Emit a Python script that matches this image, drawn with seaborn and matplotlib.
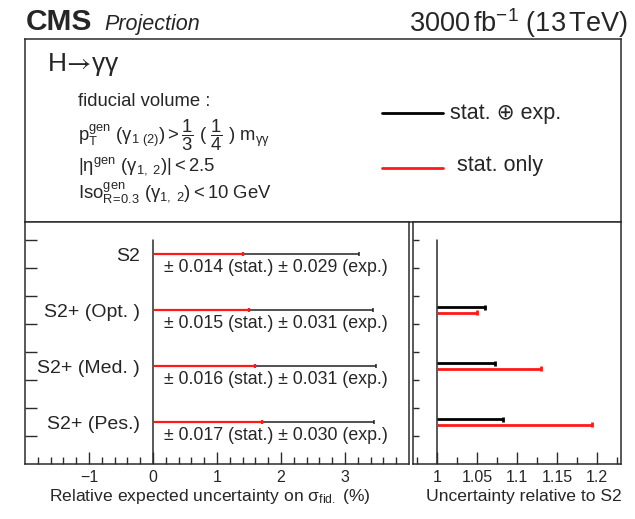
import numpy as np
import pandas as pd
import matplotlib
matplotlib.use("Agg")
import matplotlib.pyplot as plt
from matplotlib.lines import Line2D
import seaborn as sns

# Projected H->gammagamma fiducial cross-section uncertainties
categories = ["S2", "S2+ (Opt. )", "S2+ (Med. )", "S2+ (Pes.)"]
stat_unc = [0.014, 0.015, 0.016, 0.017]
exp_unc = [0.029, 0.031, 0.031, 0.030]

# uncertainty of the upgraded scenarios relative to S2
ratio_categories = ["S2+ (Opt. )", "S2+ (Med. )", "S2+ (Pes.)"]
ratio_total = [1.060, 1.072, 1.082]
ratio_stat = [1.050, 1.130, 1.194]

left_ticks = [-1, 0, 1, 2, 3]
right_ticks = [1.0, 1.05, 1.1, 1.15, 1.2]
right_tick_labels = ["1", "1.05", "1.1", "1.15", "1.2"]

sns.set_theme(style="ticks")
plt.rcParams["font.family"] = ["Liberation Sans", "DejaVu Sans"]
plt.rcParams["mathtext.fontset"] = "custom"
plt.rcParams["mathtext.rm"] = "Liberation Sans"
plt.rcParams["mathtext.it"] = "Liberation Sans:italic"
plt.rcParams["mathtext.bf"] = "Liberation Sans:bold"

W, H = 635, 519
fig = plt.figure(figsize=(W / 100, H / 100), dpi=100)
fig.patch.set_facecolor("white")

FRAME = "#2b2b2b"
RED = "#ff1a1a"


def fx(px):
    return px / W


def fy(py):
    return 1 - py / H


def box(x0, y0, x1, y1):
    return [fx(x0), fy(y1), fx(x1) - fx(x0), fy(y0) - fy(y1)]


def style_frame(ax):
    for sp in ax.spines.values():
        sp.set_visible(True)
        sp.set_color(FRAME)
        sp.set_linewidth(1.1)
    ax.set_facecolor("white")


def draw_segments(ax, x0, x1, y0, y1, color, lw):
    rows = []
    for i, (a, b, c, d) in enumerate(zip(x0, x1, y0, y1)):
        rows.append({"seg": i, "x": a, "y": c})
        rows.append({"seg": i, "x": b, "y": d})
    df = pd.DataFrame(rows)
    sns.lineplot(data=df, x="x", y="y", units="seg", estimator=None, sort=False,
                 color=color, lw=lw, ax=ax, legend=False, solid_capstyle="butt")


def hbars(ax, base, values, ypos, color, lw, cap, cap_lw):
    n = len(values)
    draw_segments(ax, [base] * n, values, ypos, ypos, color, lw)
    draw_segments(ax, values, values, [y - cap for y in ypos], [y + cap for y in ypos],
                  color, cap_lw)


# ---------------- header ----------------
fig.text(fx(26), fy(30), "CMS", fontsize=21.5, fontweight="bold", ha="left", va="baseline")
fig.text(fx(104), fy(30), "Projection", fontsize=15.5, style="italic", ha="left", va="baseline")
fig.text(fx(628), fy(32), r"3000$\,$fb$^{-1}$ (13$\,$TeV)", fontsize=19.5, ha="right", va="baseline")

# ---------------- description box ----------------
axT = fig.add_axes(box(25, 39, 621, 222))
style_frame(axT)
axT.set_xticks([])
axT.set_yticks([])

fig.text(fx(47), fy(71), r"H$\!\rightarrow\!$γγ", fontsize=19, ha="left", va="baseline",
         math_fontfamily="stix")
fig.text(fx(78), fy(106.5), "fiducial volume :", fontsize=13.3, ha="left", va="baseline")
fig.text(fx(78), fy(140),
         r"$\mathrm{p_{T}^{gen}\ (\gamma_{1\ (2)}) > \dfrac{1}{3}\ (\ \dfrac{1}{4}\ )\ m_{\gamma\gamma}}$",
         fontsize=13.3, ha="left", va="baseline")
fig.text(fx(78), fy(170.5), r"$\mathrm{|\eta^{gen}\ (\gamma_{1,\ 2})| < 2.5}$",
         fontsize=13.3, ha="left", va="baseline")
fig.text(fx(78), fy(199), r"$\mathrm{Iso^{gen}_{R\!=\!0.3}\ (\gamma_{1,\ 2}) < 10\ GeV}$",
         fontsize=13.3, ha="left", va="baseline")

fig.add_artist(Line2D([fx(382), fx(443)], [fy(112.7), fy(112.7)], color="black", lw=2.0))
fig.text(fx(450), fy(113), "stat. \u2295 exp.", fontsize=15.5, ha="left", va="center")
fig.add_artist(Line2D([fx(382), fx(443)], [fy(167.7), fy(167.7)], color=RED, lw=2.0))
fig.text(fx(457), fy(166), "stat. only", fontsize=15.5, ha="left", va="center")

# ---------------- left panel: absolute uncertainties ----------------
n = len(categories)
ypos = list(7.5 - 2.0 * np.arange(n))
total_pct = [100 * np.hypot(s, e) for s, e in zip(stat_unc, exp_unc)]
stat_pct = [100 * s for s in stat_unc]

axL = fig.add_axes(box(25, 222, 409, 464))
style_frame(axL)
axL.set_xlim(-2, 4)
axL.set_ylim(0, 242 / 28)
axL.plot([0, 0], [0, 8], color=FRAME, lw=1.1)

hbars(axL, 0, total_pct, ypos, "#222222", 1.1, 0.07, 1.1)
hbars(axL, 0, stat_pct, ypos, RED, 1.6, 0.08, 1.6)

for y, name, s, e in zip(ypos, categories, stat_unc, exp_unc):
    axL.text(-0.2, y - 0.1, name, fontsize=14, ha="right", va="center")
    axL.text(0.17, y - 0.48, f"\u00b1 {s:.3f} (stat.) \u00b1 {e:.3f} (exp.)",
             fontsize=12.8, ha="left", va="center")

axL.set_xticks(left_ticks)
axL.set_xticklabels(["\u22121", "0", "1", "2", "3"])
axL.set_xticks([v for v in np.round(np.arange(-2, 4.01, 0.2), 1) if abs(v - round(v)) > 1e-6],
               minor=True)
axL.set_yticks(np.arange(1, 9))
axL.set_yticklabels([])
axL.tick_params(axis="x", which="major", direction="in", length=8.5, width=1.0,
                color=FRAME, labelsize=11.5, pad=4, top=False)
axL.tick_params(axis="x", which="minor", direction="in", length=5, width=1.0,
                color=FRAME, top=False)
axL.tick_params(axis="y", which="major", direction="in", length=8.5, width=1.0,
                color=FRAME, right=False)
axL.set_xlabel("")
axL.set_ylabel("")

# ---------------- right panel: relative to S2 ----------------
rpos = ypos[1:]
axR = fig.add_axes(box(413, 222, 621, 464))
style_frame(axR)
axR.set_xlim(0.97, 1.23)
axR.set_ylim(0, 242 / 28)
axR.plot([1, 1], [0, 8], color=FRAME, lw=1.1)

hbars(axR, 1.0, ratio_total, [y + 0.1 for y in rpos], "black", 2.0, 0.09, 2.0)
hbars(axR, 1.0, ratio_stat, [y - 0.1 for y in rpos], RED, 2.0, 0.09, 2.0)

axR.set_xticks(right_ticks)
axR.set_xticklabels(right_tick_labels)
axR.set_xticks(list(np.round(np.arange(0.975, 1.23, 0.05), 3)), minor=True)
axR.set_yticks(np.arange(1, 9))
axR.set_yticklabels([])
axR.tick_params(axis="x", which="major", direction="in", length=9, width=1.0,
                color=FRAME, labelsize=11.5, pad=4, top=False)
axR.tick_params(axis="x", which="minor", direction="in", length=5, width=1.0,
                color=FRAME, top=False)
axR.tick_params(axis="y", which="major", direction="in", length=4, width=1.0,
                color=FRAME, right=False)
axR.set_xlabel("")
axR.set_ylabel("")

# axis titles
fig.text(fx(210), fy(497), r"Relative expected uncertainty on $\mathrm{\sigma_{fid.}}$ (%)",
         fontsize=12.6, ha="center", va="center")
fig.text(fx(524), fy(497), "Uncertainty relative to S2", fontsize=12.6, ha="center", va="center")

fig.savefig("out.png", dpi=100, facecolor="white")
